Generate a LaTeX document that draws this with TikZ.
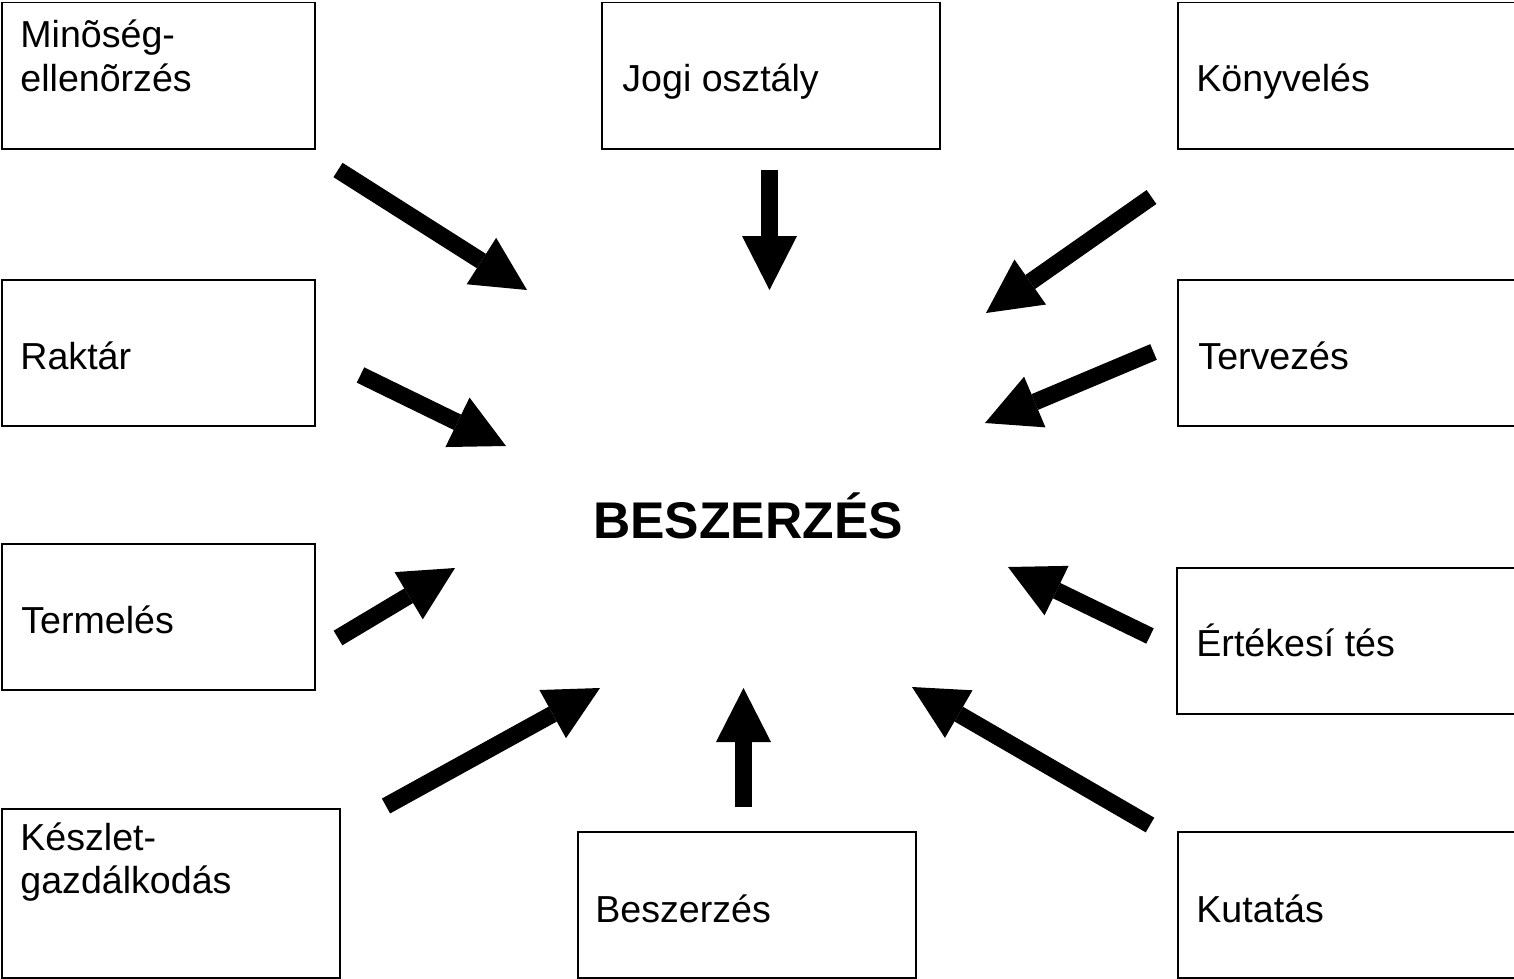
\documentclass[tikz,border=0pt]{standalone}
\usepackage{fontspec}
\setmainfont{Liberation Sans}
\usetikzlibrary{arrows.meta}

\begin{document}
\begin{tikzpicture}[x=0.5pt, y=-0.5pt]
        \tikzstyle{box}=[draw, line width=0.75pt, rectangle, anchor=north west, inner sep=0pt, minimum height=73pt]
        \tikzstyle{lbl}=[anchor=base west, inner sep=0pt, align=left, font=\fontsize{18.8}{21.5}\selectfont]
        \tikzstyle{blockarrow}=[line width=8.5pt, -{Triangle[width=27.5pt, length=27pt, line width=0pt]}]
        \useasboundingbox (0,0) rectangle (1514,979);
        % boxes
        \node [box, minimum width=156.5pt] (mino) at (1,2) {};
        \node [box, minimum width=169pt] (jogi) at (601,2) {};
        \node [box, minimum width=170pt] (konyv) at (1177,2) {};
        \node [box, minimum width=156.5pt] (raktar) at (1,279) {};
        \node [box, minimum width=170pt] (terv) at (1177,279) {};
        \node [box, minimum width=156.5pt] (termel) at (1,543) {};
        \node [box, minimum width=170pt] (ertek) at (1176,567) {};
        \node [box, minimum width=169pt, minimum height=84.5pt] (keszlet) at (1,808) {};
        \node [box, minimum width=169pt] (beszerz) at (577,831) {};
        \node [box, minimum width=170pt] (kutat) at (1177,831) {};
        % texts (base = last line)
        \node [lbl] (mino-t) at (20,91) {Minõség-\\ellenõrzés};
        \node [lbl] (jogi-t) at (622,92) {Jogi osztály};
        \node [lbl] (konyv-t) at (1196,92) {Könyvelés};
        \node [lbl] (raktar-t) at (20,369) {Raktár};
        \node [lbl] (terv-t) at (1198,369) {Tervezés};
        \node [lbl] (termel-t) at (21,633) {Termelés};
        \node [lbl] (ertek-t) at (1196,656) {Értékesí tés};
        \node [lbl] (keszlet-t) at (20,893) {Készlet-\\gazdálkodás};
        \node [lbl] (beszerz-t) at (595,922) {Beszerzés};
        \node [lbl] (kutat-t) at (1196,922) {Kutatás};
        \node [anchor=base, inner sep=0pt, font=\fontsize{25.8}{30}\bfseries\selectfont] (center) at (748,538) {BESZERZÉS};
        % arrows
        \coordinate (mino-a) at (338,170);   \coordinate (mino-b) at (527,290);
        \coordinate (jogi-a) at (769.5,170); \coordinate (jogi-b) at (769.5,290);
        \coordinate (konyv-a) at (1151.5,197); \coordinate (konyv-b) at (986,313);
        \coordinate (raktar-a) at (360.5,375); \coordinate (raktar-b) at (506,446);
        \coordinate (terv-a) at (1153.5,352); \coordinate (terv-b) at (985,423);
        \coordinate (termel-a) at (338,638); \coordinate (termel-b) at (455,568);
        \coordinate (ertek-a) at (1150,636); \coordinate (ertek-b) at (1008,567);
        \coordinate (keszlet-a) at (386,806); \coordinate (keszlet-b) at (600,688);
        \coordinate (beszerz-a) at (743.5,807); \coordinate (beszerz-b) at (743.5,688);
        \coordinate (kutat-a) at (1150,825); \coordinate (kutat-b) at (912,687);
        \foreach \n in {mino,jogi,konyv,raktar,terv,termel,ertek,keszlet,beszerz,kutat}
            \draw [blockarrow] (\n-a) -- (\n-b);
    \end{tikzpicture}
\end{document}
